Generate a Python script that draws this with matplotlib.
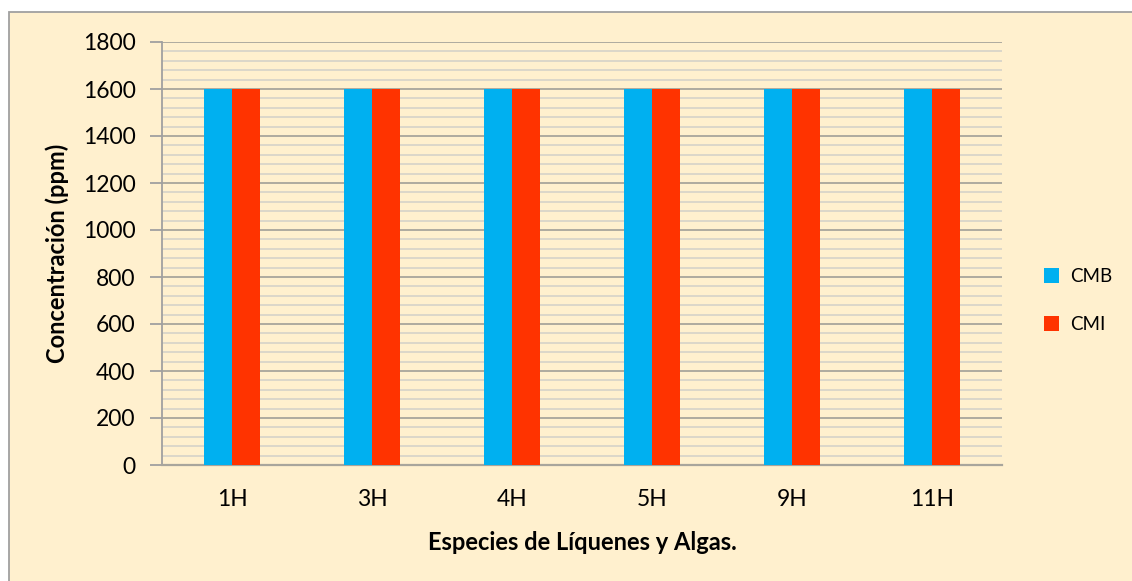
import matplotlib
matplotlib.use("Agg")
import matplotlib.pyplot as plt
import numpy as np
from matplotlib.patches import Rectangle
from matplotlib.ticker import MultipleLocator

categories = ["1H", "3H", "4H", "5H", "9H", "11H"]
cmb = [1600, 1600, 1600, 1600, 1600, 1600]
cmi = [1600, 1600, 1600, 1600, 1600, 1600]
series_names = ["CMB", "CMI"]
y_ticks = [0, 200, 400, 600, 800, 1000, 1200, 1400, 1600, 1800]

BG = "#FFF0CE"
BLUE = "#00B0F0"
RED = "#FF3300"

plt.rcParams['font.family'] = ['Lato', 'DejaVu Sans']

W, H = 1132, 581
fig = plt.figure(figsize=(W / 100, H / 100), dpi=100)
fig.patch.set_facecolor("white")
fig.patches.append(Rectangle((8.5 / W, -0.05), 1.1, 1 - 12.5 / H + 0.05,
                             transform=fig.transFigure, facecolor=BG,
                             edgecolor="#A0A0A0", linewidth=1.3, zorder=-10))

ax = fig.add_axes([162 / W, 1 - 465 / H, 840 / W, 423 / H])
ax.set_facecolor(BG)

x = np.arange(len(categories))
bw = 0.2
ax.bar(x - bw / 2, cmb, width=bw, color=BLUE, label=series_names[0], zorder=3)
ax.bar(x + bw / 2, cmi, width=bw, color=RED, label=series_names[1], zorder=3)

ax.set_xlim(-0.5, len(categories) - 0.5)
ax.set_ylim(0, 1800)
ax.set_yticks(y_ticks)
ax.yaxis.set_minor_locator(MultipleLocator(40))
ax.set_xticks(x)
ax.set_xticklabels(categories)

ax.grid(which="major", axis="y", color="#A8A59C", linewidth=1.3, zorder=1)
ax.grid(which="minor", axis="y", color="#D2D0C8", linewidth=1.1, zorder=1)
ax.set_axisbelow(True)

for s in ["top", "right"]:
    ax.spines[s].set_visible(False)
ax.spines["left"].set_color("#A0A0A0")
ax.spines["left"].set_linewidth(1.3)
ax.spines["bottom"].set_color("#A8A59C")
ax.spines["bottom"].set_linewidth(1.6)

ax.tick_params(axis="y", which="major", length=9, color="#A0A0A0", width=1.3,
               labelsize=16.5, pad=10)
ax.tick_params(axis="y", which="minor", length=0)
ax.tick_params(axis="x", length=0, labelsize=16.5, pad=17)

ax.set_ylabel("Concentración (ppm)", fontsize=17, fontweight="bold")
ax.set_xlabel("Especies de Líquenes y Algas.", fontsize=17, fontweight="bold")
ax.yaxis.label.set_va("center")
ax.xaxis.label.set_va("center")
ax.yaxis.set_label_coords((57 - 162) / 840, 0.5)
ax.xaxis.set_label_coords(0.5, (465 - 542) / 423)

leg = ax.legend(loc="center left", bbox_to_anchor=(1.05, (465 - 300.5) / 423),
                frameon=False, fontsize=13.5, handlelength=0.82, handleheight=0.82,
                handletextpad=0.55, labelspacing=1.68, borderpad=0,
                borderaxespad=0)

fig.savefig("out.png", dpi=100, facecolor=fig.get_facecolor())
